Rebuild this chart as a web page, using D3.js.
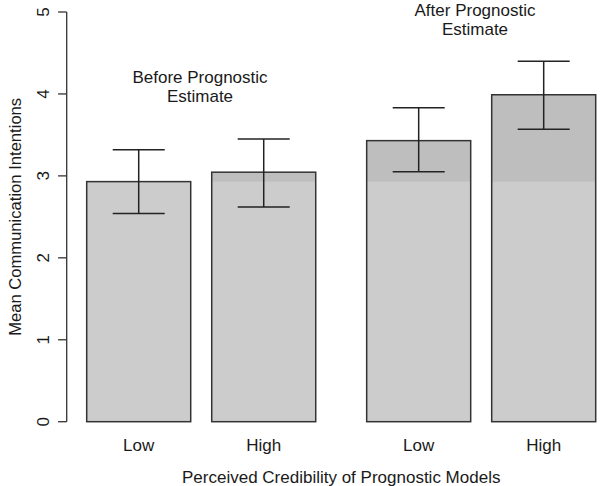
<!DOCTYPE html>
<html>
<head>
<meta charset="utf-8">
<script src="https://cdn.jsdelivr.net/npm/d3@7"></script>
<style>
  html, body { margin: 0; padding: 0; background: #fff; }
  svg { display: block; }
  text { font-family: "Liberation Sans", Arial, sans-serif; fill: #1a1a1a; }
</style>
</head>
<body>
<svg id="chart" width="600" height="486"></svg>
<script>
// ---- data ----
const groups = ["Before Prognostic Estimate", "After Prognostic Estimate"];
const groupLabelLines = [["Before Prognostic", "Estimate"], ["After Prognostic", "Estimate"]];
const categories = ["Low", "High"];
const means = [[2.93, 3.045], [3.43, 3.99]];
const errLower = [[2.54, 2.62], [3.05, 3.57]];
const errUpper = [[3.32, 3.45], [3.83, 4.40]];
const referenceMean = 2.93; // "Before / Low" level shown as lighter base
const yTicks = [0, 1, 2, 3, 4, 5];
const yTitle = "Mean Communication Intentions";
const xTitle = "Perceived Credibility of Prognostic Models";

// ---- layout ----
const svg = d3.select("#chart");
const plotLeft = 86.7, plotRight = 595.7, axisX = 66.7;
const y = d3.scaleLinear().domain([0, 5]).range([421.7, 12]);
const gx = d3.scaleBand().domain(groups).range([plotLeft, plotRight]).paddingInner(0.182).paddingOuter(0);
const ix = d3.scaleBand().domain(categories).range([0, gx.bandwidth()]).paddingInner(0.168).paddingOuter(0);

const rows = [];
groups.forEach((g, gi) => categories.forEach((c, ci) => rows.push({
  g, gi, c, ci, v: means[gi][ci], lo: errLower[gi][ci], hi: errUpper[gi][ci]
})));

// bars: darker top part, lighter base up to reference level
const barG = svg.append("g");
barG.selectAll("rect.top").data(rows).join("rect")
  .attr("x", d => gx(d.g) + ix(d.c))
  .attr("width", ix.bandwidth())
  .attr("y", d => y(d.v))
  .attr("height", d => y(0) - y(d.v))
  .attr("fill", "#bebebe");
barG.selectAll("rect.base").data(rows).join("rect")
  .attr("x", d => gx(d.g) + ix(d.c))
  .attr("width", ix.bandwidth())
  .attr("y", d => y(Math.min(d.v, referenceMean)))
  .attr("height", d => y(0) - y(Math.min(d.v, referenceMean)))
  .attr("fill", "#cccccc");
barG.selectAll("rect.outline").data(rows).join("rect")
  .attr("x", d => gx(d.g) + ix(d.c))
  .attr("width", ix.bandwidth())
  .attr("y", d => y(d.v))
  .attr("height", d => y(0) - y(d.v))
  .attr("fill", "none")
  .attr("stroke", "#333")
  .attr("stroke-width", 1.5);

// error bars
const capHalf = 26;
const errG = svg.append("g").attr("stroke", "#222").attr("stroke-width", 1.5).attr("fill", "none");
rows.forEach(d => {
  const cx = gx(d.g) + ix(d.c) + ix.bandwidth() / 2;
  errG.append("line").attr("x1", cx).attr("x2", cx).attr("y1", y(d.lo)).attr("y2", y(d.hi));
  errG.append("line").attr("x1", cx - capHalf).attr("x2", cx + capHalf).attr("y1", y(d.lo)).attr("y2", y(d.lo));
  errG.append("line").attr("x1", cx - capHalf).attr("x2", cx + capHalf).attr("y1", y(d.hi)).attr("y2", y(d.hi));
});

// y axis
const yAxis = svg.append("g");
yAxis.append("line").attr("x1", axisX).attr("x2", axisX).attr("y1", y(0)).attr("y2", y(5))
  .attr("stroke", "#333").attr("stroke-width", 1.3);
yAxis.selectAll("line.tick").data(yTicks).join("line")
  .attr("x1", axisX - 8.6).attr("x2", axisX).attr("y1", d => y(d)).attr("y2", d => y(d))
  .attr("stroke", "#333").attr("stroke-width", 1.3);
yAxis.selectAll("text").data(yTicks).join("text")
  .attr("transform", d => `translate(48.5,${y(d)}) rotate(-90)`)
  .attr("text-anchor", "middle")
  .attr("font-size", 17)
  .text(d => d);

svg.append("text")
  .attr("transform", `translate(21,${(y(0) + y(5)) / 2}) rotate(-90)`)
  .attr("text-anchor", "middle").attr("font-size", 16.6)
  .text(yTitle);

// x category labels
svg.selectAll("text.xcat").data(rows).join("text")
  .attr("x", d => gx(d.g) + ix(d.c) + ix.bandwidth() / 2)
  .attr("y", 451)
  .attr("text-anchor", "middle").attr("font-size", 17)
  .text(d => d.c);

svg.append("text")
  .attr("x", (plotLeft + plotRight) / 2 - 0)
  .attr("y", 483)
  .attr("text-anchor", "middle").attr("font-size", 17)
  .text(xTitle);

// group annotations
const annoPos = [{x: 200, y: 83}, {x: 475, y: 15.5}];
groupLabelLines.forEach((lines, gi) => {
  const t = svg.append("text").attr("text-anchor", "middle").attr("font-size", 17);
  lines.forEach((ln, li) => t.append("tspan").attr("x", annoPos[gi].x).attr("y", annoPos[gi].y + li * 19).text(ln));
});
</script>
</body>
</html>
